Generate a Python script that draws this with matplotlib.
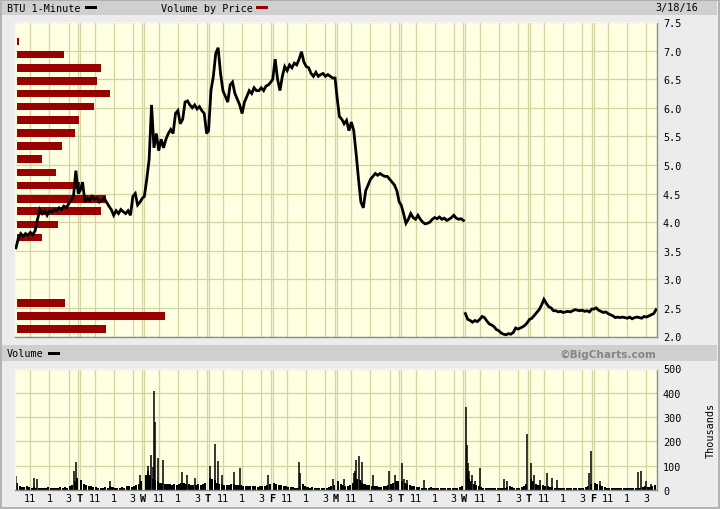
import numpy as np
import matplotlib
matplotlib.use("Agg")
import matplotlib.pyplot as plt
from matplotlib.patches import Rectangle

# ---------------- data ----------------
day_letters = ["M", "T", "W", "T", "F", "M", "T", "W", "T", "F"]
intraday_labels = ["11", "1", "3"]
intraday_minutes = [90, 210, 330]          # 11:00, 13:00, 15:00 after 9:30 open

# 15-minute samples of the 1-minute price (27 per session, 9:30 .. 16:00)
price_d0 = [3.55, 3.72, 3.80, 3.75, 3.80, 3.77, 3.82, 3.78, 3.85, 4.05, 4.22, 4.15, 4.20, 4.12,
            4.20, 4.18, 4.22, 4.20, 4.25, 4.22, 4.28, 4.25, 4.32, 4.38, 4.45, 4.90, 4.50]
price_d1 = [4.55, 4.70, 4.35, 4.42, 4.38, 4.45, 4.40, 4.42, 4.35, 4.38, 4.42, 4.35, 4.28, 4.22,
            4.12, 4.20, 4.15, 4.22, 4.18, 4.15, 4.20, 4.12, 4.45, 4.50, 4.30, 4.35, 4.42]
price_d2 = [4.45, 4.75, 5.10, 6.05, 5.30, 5.55, 5.25, 5.45, 5.30, 5.45, 5.55, 5.62, 5.55, 5.90,
            5.95, 5.72, 5.80, 6.10, 6.12, 6.05, 6.00, 6.05, 5.98, 6.02, 5.95, 5.90, 5.55]
price_d3 = [5.60, 6.30, 6.55, 6.95, 7.05, 6.60, 6.30, 6.20, 6.10, 6.40, 6.45, 6.25, 6.15, 6.05,
            5.90, 6.10, 6.20, 6.30, 6.25, 6.35, 6.30, 6.30, 6.35, 6.30, 6.38, 6.40, 6.45]
price_d4 = [6.50, 6.85, 6.50, 6.30, 6.55, 6.72, 6.65, 6.75, 6.70, 6.78, 6.75, 6.85, 6.98, 6.80,
            6.72, 6.70, 6.60, 6.55, 6.62, 6.55, 6.58, 6.60, 6.55, 6.58, 6.55, 6.52, 6.52]
price_d5 = [6.20, 5.85, 5.80, 5.72, 5.78, 5.60, 5.75, 5.60, 5.20, 4.75, 4.35, 4.25, 4.55, 4.65,
            4.75, 4.80, 4.85, 4.82, 4.85, 4.82, 4.80, 4.80, 4.75, 4.70, 4.65, 4.55, 4.35]
price_d6 = [4.30, 4.15, 3.98, 4.05, 4.15, 4.08, 4.05, 4.12, 4.05, 4.00, 3.97, 3.98, 4.00, 4.05,
            4.08, 4.06, 4.09, 4.05, 4.07, 4.03, 4.05, 4.08, 4.12, 4.07, 4.05, 4.06, 4.03]
price_d7 = [2.40, 2.30, 2.28, 2.25, 2.28, 2.26, 2.30, 2.35, 2.33, 2.27, 2.22, 2.20, 2.17, 2.12,
            2.10, 2.06, 2.04, 2.03, 2.05, 2.04, 2.07, 2.15, 2.13, 2.15, 2.17, 2.20, 2.25]
price_d8 = [2.30, 2.32, 2.37, 2.42, 2.47, 2.55, 2.65, 2.58, 2.52, 2.50, 2.45, 2.45, 2.43, 2.44,
            2.42, 2.43, 2.44, 2.43, 2.45, 2.47, 2.46, 2.45, 2.46, 2.44, 2.45, 2.43, 2.48]
price_d9 = [2.48, 2.50, 2.46, 2.44, 2.42, 2.43, 2.40, 2.38, 2.36, 2.33, 2.34, 2.33, 2.34, 2.33,
            2.32, 2.34, 2.31, 2.33, 2.34, 2.33, 2.32, 2.35, 2.34, 2.36, 2.38, 2.40, 2.47]
price_days = [price_d0, price_d1, price_d2, price_d3, price_d4,
              price_d5, price_d6, price_d7, price_d8, price_d9]
price_break_before_day = 7      # the line is not joined across this gap

# typical 1-minute volume level (thousands) in each 15-minute block
vol_d0 = [30, 18, 14, 12, 15, 12, 10, 12, 10, 8, 10, 8, 10, 12, 8, 10, 8, 10, 12, 10, 12, 10, 15, 20, 35, 50]
vol_d1 = [40, 25, 20, 15, 15, 12, 12, 10, 10, 10, 12, 10, 15, 12, 10, 10, 10, 12, 10, 15, 15, 12, 15, 20, 25, 35]
vol_d2 = [60, 80, 60, 45, 40, 35, 30, 30, 25, 25, 25, 20, 25, 20, 25, 30, 30, 25, 25, 20, 20, 20, 25, 20, 25, 30]
vol_d3 = [50, 45, 40, 30, 25, 25, 20, 20, 20, 25, 25, 20, 20, 20, 15, 15, 15, 15, 15, 15, 12, 15, 15, 15, 20, 25]
vol_d4 = [30, 25, 20, 20, 15, 15, 12, 12, 12, 10, 10, 12, 25, 15, 12, 10, 12, 10, 10, 8, 10, 10, 10, 12, 15, 20]
vol_d5 = [35, 25, 20, 15, 15, 20, 30, 40, 45, 40, 30, 25, 20, 20, 15, 15, 15, 12, 12, 15, 15, 20, 25, 30, 35, 35]
vol_d6 = [35, 30, 25, 20, 15, 15, 12, 12, 10, 10, 10, 10, 12, 10, 8, 8, 8, 8, 10, 8, 8, 10, 10, 10, 12, 15]
vol_d7 = [60, 45, 35, 25, 20, 15, 12, 10, 10, 10, 8, 8, 8, 8, 8, 10, 10, 12, 15, 12, 10, 10, 10, 12, 15, 25]
vol_d8 = [45, 35, 25, 20, 20, 20, 15, 15, 12, 12, 10, 10, 10, 10, 8, 8, 8, 10, 8, 8, 10, 10, 10, 12, 15, 25]
vol_d9 = [30, 25, 20, 15, 12, 10, 10, 10, 8, 8, 8, 8, 8, 8, 8, 10, 10, 8, 10, 10, 12, 15, 12, 12, 15, 20]
vol_days = [vol_d0, vol_d1, vol_d2, vol_d3, vol_d4, vol_d5, vol_d6, vol_d7, vol_d8, vol_d9]

# individual 1-minute volume spikes (session, minute after open, thousands)
spike_day = [0, 0, 0, 0, 0, 1, 1,
             2, 2, 2, 2, 2, 2, 2, 2, 2, 2,
             3, 3, 3, 3, 3, 3, 3,
             4, 4, 4,
             5, 5, 5, 5, 5, 5, 5, 5, 5,
             6, 6, 6, 6,
             7, 7, 7, 7, 7, 7, 7, 7, 7, 7,
             8, 8, 8, 8, 8, 8, 8, 8,
             9, 9, 9, 9, 9]
spike_minute = [2, 110, 134, 366, 378, 189, 372,
                24, 43, 55, 61, 67, 85, 116, 238, 268, 317,
                6, 43, 61, 85, 158, 195, 371,
                164, 170, 377,
                43, 104, 116, 122, 140, 158, 225, 329, 366,
                6, 18, 37, 140,
                6, 12, 18, 24, 43, 61, 91, 244, 262, 385,
                6, 30, 67, 110, 140, 171, 372, 385,
                37, 274, 298, 329, 359]
spike_vol = [57, 50, 45, 80, 117, 35, 60,
             100, 142, 95, 407, 280, 130, 122, 76, 60, 50,
             100, 190, 120, 60, 76, 90, 60,
             117, 70, 45,
             45, 70, 80, 123, 138, 117, 60, 80, 60,
             113, 45, 40, 40,
             342, 184, 110, 80, 60, 35, 90, 45, 35, 230,
             110, 60, 40, 70, 50, 40, 70, 160,
             35, 75, 80, 35, 25]

# volume by price (relative units)
vbp_price = [2.13, 2.36, 2.59, 3.73, 3.96, 4.19, 4.41, 4.64, 4.87, 5.10, 5.33,
             5.56, 5.79, 6.02, 6.25, 6.47, 6.70, 6.93, 7.16]
vbp_volume = [89, 148, 48, 25, 41, 84, 89, 63, 39, 25, 45,
              58, 62, 77, 93, 80, 84, 47, 2]

price_ticks = [2.0, 2.5, 3.0, 3.5, 4.0, 4.5, 5.0, 5.5, 6.0, 6.5, 7.0, 7.5]
volume_ticks = [0, 100, 200, 300, 400, 500]

# ---------------- style ----------------
BG = "#ececec"
BAND = "#cfcfcf"
PANEL = "#ffffe2"
GRID = "#d4d4a2"
RED = "#990000"
MONO = ["DejaVu Sans Mono"]
GAP = 0.03
SESSION = 390.0

W, H = 720, 510
fig = plt.figure(figsize=(7.2, 5.1), dpi=100, facecolor=BG)


def fx(x):
    return x / W


def fy(y):
    return 1 - y / H


def prect(x0, y0, x1, y1):
    return [fx(x0), fy(y1), fx(x1) - fx(x0), fy(y0) - fy(y1)]


def tpos(day, minute):
    return day + GAP / 2 + (1 - GAP) * np.asarray(minute, dtype=float) / SESSION


def add_box(x0, y0, x1, y1, color, z=0):
    fig.add_artist(Rectangle((fx(x0), fy(y1)), fx(x1) - fx(x0), fy(y0) - fy(y1),
                             transform=fig.transFigure, facecolor=color,
                             edgecolor="none", zorder=z))


# bands and header texts
add_box(2, 0, 717, 16, BAND)
add_box(2, 346, 717, 362, BAND)
fig.text(fx(7), fy(8.5), "BTU 1-Minute", family=MONO, size=7.3, va="center", ha="left")
add_box(85, 6.5, 97, 9.5, "black", 2)
fig.text(fx(161), fy(8.5), "Volume by Price", family=MONO, size=7.3, va="center", ha="left")
add_box(256, 6.5, 268, 9.5, RED, 2)
fig.text(fx(698), fy(8.5), "3/18/16", family=MONO, size=7.3, va="center", ha="right")
fig.text(fx(7), fy(354.5), "Volume", family=MONO, size=7.3, va="center", ha="left")
add_box(48, 353, 60, 356, "black", 2)
fig.text(fx(656), fy(354.5), "\u00a9BigCharts.com", family=["DejaVu Sans"], weight="bold",
         size=7.6, color="#858585", va="center", ha="right")
fig.text(fx(711), fy(430), "Thousands", family=MONO, size=7.3, rotation=90,
         va="center", ha="center")


def draw_vgrid(ax):
    for d in range(10):
        for m in intraday_minutes:
            ax.axvline(tpos(d, m), color=GRID, lw=0.9, zorder=0.5)
        if d > 0:
            ax.axvline(d - GAP / 2, color=GRID, lw=0.9, zorder=0.5)
            ax.axvline(d + GAP / 2, color=GRID, lw=0.9, zorder=0.5)


def style_spines(ax):
    for s in ("top", "left"):
        ax.spines[s].set_color("#f6f6f6")
    for s in ("bottom", "right"):
        ax.spines[s].set_color("#8c8c8c")
    for s in ax.spines.values():
        s.set_linewidth(1.0)


# ---------------- price panel ----------------
main_rect = prect(15, 23, 657, 337.5)
ax = fig.add_axes(main_rect, facecolor=PANEL)
ax.set_xlim(0, 10)
ax.set_ylim(2.0, 7.5)
ax.set_yticks(price_ticks)
ax.set_yticklabels([f"{v:.1f}" for v in price_ticks])
ax.yaxis.tick_right()
ax.tick_params(axis="y", length=0, pad=4.3, labelsize=7.3)
for lab in ax.get_yticklabels():
    lab.set_family(MONO)
ax.set_xticks([])
ax.grid(axis="y", color=GRID, lw=0.9, zorder=0.5)
ax.set_axisbelow(True)
draw_vgrid(ax)
style_spines(ax)

ax_vbp = fig.add_axes(main_rect, sharey=ax)
ax_vbp.patch.set_visible(False)
ax_vbp.set_xlim(-2, 640)
ax_vbp.barh(vbp_price, vbp_volume, height=0.135, left=0, color=RED, linewidth=0)
ax_vbp.axis("off")

ax_px = fig.add_axes(main_rect, sharex=ax, sharey=ax)
ax_px.patch.set_visible(False)
ax_px.axis("off")
sample_minutes = np.arange(27) * 15
seg_t, seg_p = [], []
for d, prices in enumerate(price_days):
    if d == price_break_before_day:
        ax_px.plot(np.concatenate(seg_t), np.concatenate(seg_p), color="black", lw=2.0,
                   solid_joinstyle="miter")
        seg_t, seg_p = [], []
    seg_t.append(tpos(d, sample_minutes))
    seg_p.append(np.asarray(prices))
ax_px.plot(np.concatenate(seg_t), np.concatenate(seg_p), color="black", lw=2.0,
           solid_joinstyle="miter")

# ---------------- volume panel ----------------
vol_rect = prect(15, 369.5, 657, 491)
axv = fig.add_axes(vol_rect, facecolor=PANEL)
axv.set_xlim(0, 10)
axv.set_ylim(0, 500)
axv.set_yticks(volume_ticks)
axv.yaxis.tick_right()
axv.tick_params(axis="y", length=0, pad=4.3, labelsize=7.3)
axv.grid(axis="y", color=GRID, lw=0.9, zorder=0.5)
axv.set_axisbelow(True)
draw_vgrid(axv)
style_spines(axv)

block_minutes = np.arange(26) * 15 + 7.5
block_width = (1 - GAP) * 15 / SESSION
for d, vols in enumerate(vol_days):
    axv.bar(tpos(d, block_minutes), vols, width=block_width * 0.85, color="black",
            linewidth=0, zorder=2)
spike_t = [tpos(d, m) for d, m in zip(spike_day, spike_minute)]
axv.vlines(spike_t, 0, spike_vol, color="black", lw=1.1, zorder=2)

xt_pos, xt_lab, xt_bold = [], [], []
for d in range(10):
    if d > 0:
        xt_pos.append(d)
        xt_lab.append(day_letters[d])
        xt_bold.append(True)
    for m, lab in zip(intraday_minutes, intraday_labels):
        xt_pos.append(float(tpos(d, m)))
        xt_lab.append(lab)
        xt_bold.append(False)
axv.set_xticks(xt_pos)
axv.set_xticklabels(xt_lab)
axv.tick_params(axis="x", length=0, pad=2.0, labelsize=7.3)
for lab, b in zip(axv.get_xticklabels(), xt_bold):
    lab.set_family(MONO)
    if b:
        lab.set_weight("bold")
for lab in axv.get_yticklabels():
    lab.set_family(MONO)

# outer frame
fig.add_artist(Rectangle((0.001, 0.001), 0.997, 0.997, transform=fig.transFigure,
                         facecolor="none", edgecolor="#a8a8a8", lw=1.2))

fig.savefig("out.png", dpi=100, facecolor=BG)
